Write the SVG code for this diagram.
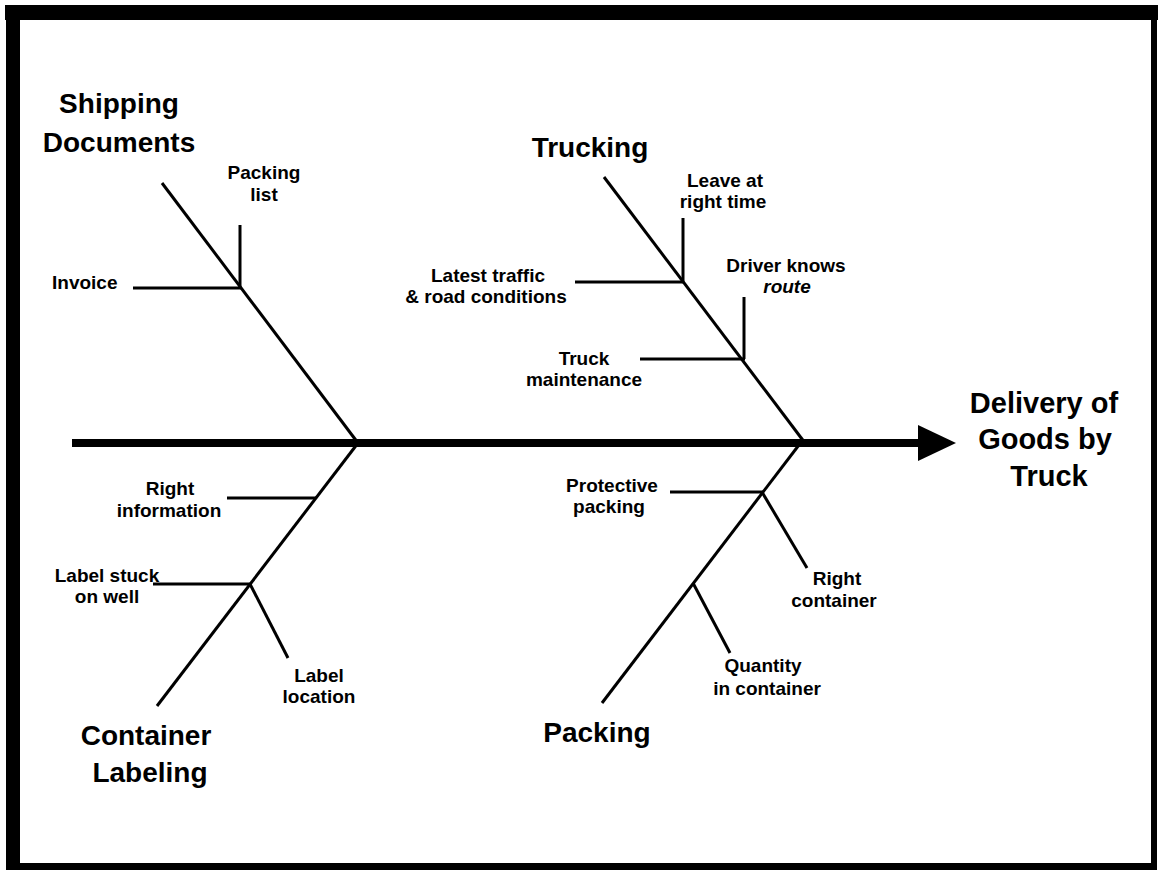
<svg xmlns="http://www.w3.org/2000/svg" width="1158" height="873" viewBox="0 0 1158 873">
<style>
.t{font-family:"Liberation Sans",Arial,sans-serif;font-weight:bold;fill:#000;text-anchor:middle}
.s{font-size:19px}
.h{font-size:28px}
.e{font-size:29px}
.b{stroke:#000;stroke-width:3;fill:none;stroke-linecap:butt}
</style>
<rect width="1158" height="873" fill="#fff"/>
<g id="frame" fill="#000">
<rect x="5" y="5" width="1153" height="15"/>
<rect x="6" y="5" width="14" height="865"/>
<rect x="1151" y="5" width="6" height="865"/>
<rect x="6" y="863" width="1151" height="7"/>
</g>
<g id="connectors">
<line x1="72" y1="443" x2="920" y2="443" stroke="#000" stroke-width="8"/>
<polygon points="918,425 956,443 918,461" fill="#000"/>
<line class="b" x1="162" y1="183" x2="358" y2="443"/>
<line class="b" x1="240" y1="225" x2="240" y2="288"/>
<line class="b" x1="133" y1="288" x2="241" y2="288"/>
<line class="b" x1="604" y1="177" x2="805" y2="443"/>
<line class="b" x1="683" y1="218" x2="683" y2="282"/>
<line class="b" x1="575" y1="282" x2="684" y2="282"/>
<line class="b" x1="744" y1="297" x2="744" y2="359"/>
<line class="b" x1="640" y1="359" x2="745" y2="359"/>
<line class="b" x1="358" y1="443" x2="157" y2="706"/>
<line class="b" x1="227" y1="498" x2="316" y2="498"/>
<line class="b" x1="153" y1="584" x2="251" y2="584"/>
<line class="b" x1="250" y1="584" x2="288" y2="658"/>
<line class="b" x1="802" y1="441" x2="602" y2="703"/>
<line class="b" x1="670" y1="492" x2="763" y2="492"/>
<line class="b" x1="762" y1="492" x2="807" y2="568"/>
<line class="b" x1="693" y1="583" x2="730" y2="653"/>
</g>
<g id="effect"><text class="t e" x="1044" y="413">Delivery of</text><text class="t e" x="1045" y="449">Goods by</text><text class="t e" x="1049" y="486">Truck</text></g>
<g id="shipping-documents"><text class="t h" x="119" y="113">Shipping</text><text class="t h" x="119" y="152">Documents</text></g>
<g id="packing-list"><text class="t s" x="264" y="179">Packing</text><text class="t s" x="264" y="201">list</text></g>
<g id="invoice"><text class="t s" x="52" y="289" style="text-anchor:start">Invoice</text></g>
<g id="trucking"><text class="t h" x="590" y="157">Trucking</text></g>
<g id="leave-at-right-time"><text class="t s" x="725" y="187">Leave at</text><text class="t s" x="723" y="208">right time</text></g>
<g id="latest-traffic"><text class="t s" x="488" y="282">Latest traffic</text><text class="t s" x="486" y="303">&amp; road conditions</text></g>
<g id="driver-knows-route"><text class="t s" x="786" y="272">Driver knows</text><text class="t s" x="787" y="293" font-style="italic">route</text></g>
<g id="truck-maintenance"><text class="t s" x="584" y="365">Truck</text><text class="t s" x="584" y="386">maintenance</text></g>
<g id="container-labeling"><text class="t h" x="146" y="745">Container</text><text class="t h" x="150" y="782">Labeling</text></g>
<g id="right-information"><text class="t s" x="170" y="495">Right</text><text class="t s" x="169" y="517">information</text></g>
<g id="label-stuck"><text class="t s" x="107" y="582">Label stuck</text><text class="t s" x="107" y="603">on well</text></g>
<g id="label-location"><text class="t s" x="319" y="682">Label</text><text class="t s" x="319" y="703">location</text></g>
<g id="packing"><text class="t h" x="597" y="742">Packing</text></g>
<g id="protective-packing"><text class="t s" x="612" y="492">Protective</text><text class="t s" x="609" y="513">packing</text></g>
<g id="right-container"><text class="t s" x="837" y="585">Right</text><text class="t s" x="834" y="607">container</text></g>
<g id="quantity"><text class="t s" x="763" y="672">Quantity</text><text class="t s" x="767" y="695">in container</text></g>
</svg>
